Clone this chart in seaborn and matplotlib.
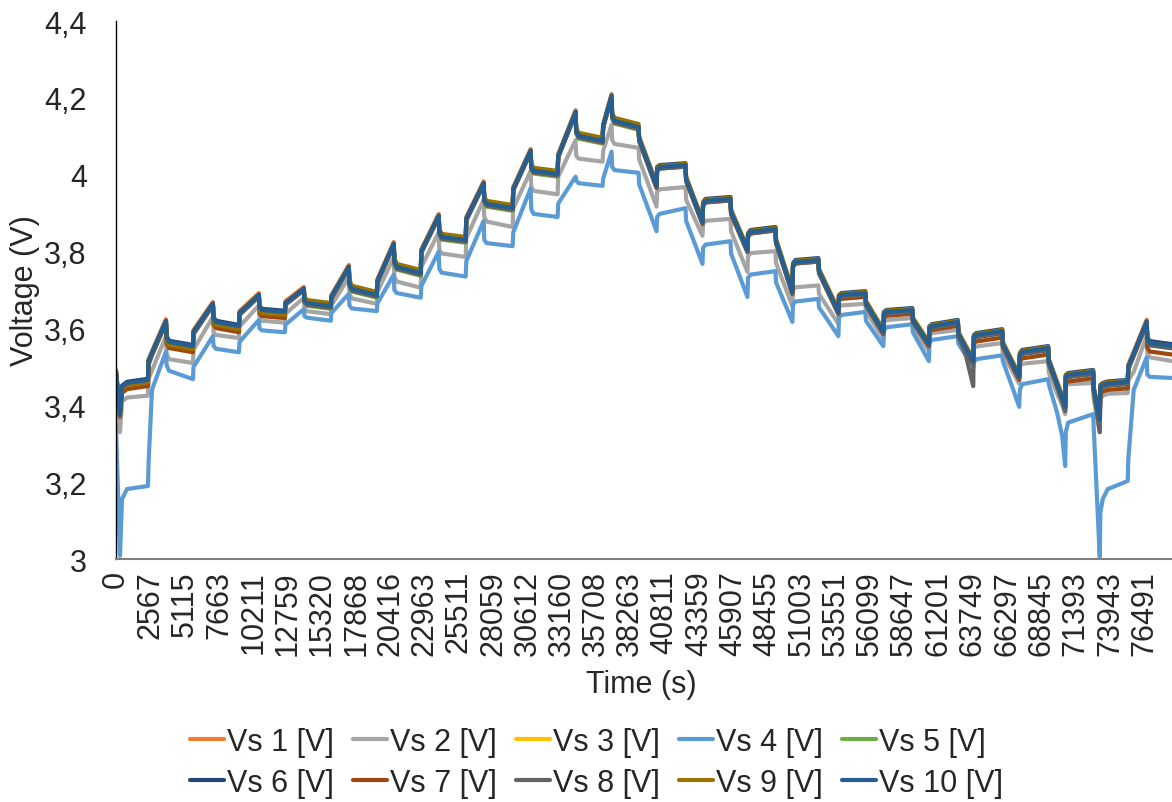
import numpy as np
import pandas as pd
import seaborn as sns
import matplotlib
matplotlib.use('Agg')
import matplotlib.pyplot as plt
from matplotlib.lines import Line2D

# time stamps (s) of the points
time_s = [0, 297, 446, 818, 2379,
          2423, 2676, 3717, 3761, 3940, 5723,
          5768, 7210, 7255, 7433, 9143,
          9187, 10629, 10674, 10852, 12562,
          12606, 13974, 14019, 14197, 15981,
          16025, 17319, 17364, 17542, 19400,
          19445, 20664, 20709, 20887, 22671,
          22715, 24009, 24054, 24232, 26016,
          26060, 27354, 27398, 27577, 29509,
          29554, 30847, 30892, 31070, 32854,
          32898, 34192, 34236, 34414, 36199,
          36243, 36868, 36912, 37091, 38875,
          38919, 40213, 40257, 40436, 42368,
          42413, 43632, 43677, 43855, 45713,
          45758, 46977, 47022, 47200, 49058,
          49103, 50321, 50366, 50544, 52254,
          52299, 53741, 53785, 53964, 55748,
          55792, 57085, 57130, 57308, 59241,
          59285, 60474, 60519, 60697, 62630,
          62674, 63224, 63775, 63819, 63998, 65930,
          65975, 66599, 67194, 67239, 67417, 69350,
          69394, 70019, 70391, 70614, 70658, 70837, 72695,
          72740, 73186, 73230, 73409, 73781, 75267,
          75311, 75713, 76679, 76724, 76902, 78561]

vs1 = [3.488, 3.378, 3.449, 3.459, 3.467,
       3.520, 3.541, 3.624, 3.579, 3.566, 3.555,
       3.596, 3.669, 3.628, 3.618, 3.607,
       3.645, 3.692, 3.657, 3.649, 3.644,
       3.671, 3.708, 3.675, 3.667, 3.659,
       3.687, 3.765, 3.719, 3.704, 3.688,
       3.728, 3.825, 3.776, 3.761, 3.745,
       3.806, 3.898, 3.852, 3.839, 3.831,
       3.890, 3.983, 3.935, 3.925, 3.914,
       3.968, 4.067, 4.021, 4.011, 4.003,
       4.054, 4.168, 4.115, 4.102, 4.089,
       4.132, 4.210, 4.154, 4.141, 4.125,
       4.094, 3.972, 4.016, 4.021, 4.026,
       3.990, 3.878, 3.925, 3.933, 3.938,
       3.904, 3.805, 3.844, 3.852, 3.860,
       3.828, 3.696, 3.766, 3.774, 3.779,
       3.750, 3.644, 3.683, 3.688, 3.693,
       3.667, 3.592, 3.639, 3.644, 3.649,
       3.623, 3.560, 3.602, 3.607, 3.618,
       3.586, 3.550, 3.516, 3.579, 3.584, 3.594,
       3.560, 3.516, 3.475, 3.532, 3.540, 3.550,
       3.516, 3.456, 3.420, 3.397, 3.475, 3.480, 3.488,
       3.443, 3.365, 3.449, 3.454, 3.458, 3.462,
       3.506, 3.540, 3.623, 3.573, 3.563, 3.555]

vs2 = [3.450, 3.330, 3.410, 3.420, 3.425,
       3.470, 3.490, 3.580, 3.535, 3.520, 3.510,
       3.545, 3.630, 3.590, 3.583, 3.575,
       3.605, 3.660, 3.628, 3.620, 3.615,
       3.638, 3.680, 3.652, 3.645, 3.637,
       3.660, 3.733, 3.690, 3.678, 3.664,
       3.695, 3.785, 3.735, 3.722, 3.706,
       3.760, 3.850, 3.805, 3.795, 3.786,
       3.835, 3.935, 3.890, 3.878, 3.864,
       3.912, 4.010, 3.968, 3.958, 3.949,
       3.995, 4.090, 4.050, 4.042, 4.034,
       4.062, 4.130, 4.090, 4.080, 4.070,
       4.040, 3.917, 3.955, 3.962, 3.968,
       3.935, 3.841, 3.873, 3.880, 3.885,
       3.853, 3.747, 3.788, 3.796, 3.801,
       3.770, 3.658, 3.700, 3.707, 3.712,
       3.690, 3.612, 3.655, 3.660, 3.664,
       3.645, 3.573, 3.615, 3.622, 3.627,
       3.605, 3.541, 3.582, 3.588, 3.596,
       3.568, 3.533, 3.500, 3.548, 3.553, 3.562,
       3.530, 3.495, 3.456, 3.500, 3.508, 3.515,
       3.485, 3.430, 3.400, 3.377, 3.450, 3.455, 3.458,
       3.415, 3.330, 3.415, 3.425, 3.430, 3.432,
       3.465, 3.487, 3.580, 3.535, 3.525, 3.515]

vs3 = [3.485, 3.375, 3.446, 3.456, 3.464,
       3.513, 3.534, 3.617, 3.576, 3.563, 3.552,
       3.589, 3.662, 3.625, 3.615, 3.604,
       3.638, 3.685, 3.654, 3.646, 3.641,
       3.664, 3.701, 3.672, 3.664, 3.656,
       3.680, 3.758, 3.716, 3.701, 3.685,
       3.721, 3.818, 3.773, 3.758, 3.742,
       3.799, 3.891, 3.849, 3.836, 3.828,
       3.883, 3.976, 3.932, 3.922, 3.911,
       3.961, 4.060, 4.018, 4.008, 4.000,
       4.047, 4.161, 4.112, 4.099, 4.086,
       4.125, 4.203, 4.151, 4.138, 4.122,
       4.091, 3.969, 4.013, 4.018, 4.023,
       3.987, 3.875, 3.922, 3.930, 3.935,
       3.901, 3.802, 3.841, 3.849, 3.857,
       3.825, 3.693, 3.763, 3.771, 3.776,
       3.747, 3.641, 3.680, 3.685, 3.690,
       3.664, 3.589, 3.636, 3.641, 3.646,
       3.620, 3.557, 3.599, 3.604, 3.615,
       3.583, 3.547, 3.513, 3.576, 3.581, 3.591,
       3.557, 3.513, 3.472, 3.529, 3.537, 3.547,
       3.513, 3.453, 3.417, 3.394, 3.472, 3.477, 3.485,
       3.440, 3.362, 3.446, 3.451, 3.455, 3.459,
       3.498, 3.532, 3.615, 3.570, 3.560, 3.552]

vs4 = [3.346, 3.008, 3.156, 3.182, 3.190,
       3.250, 3.440, 3.540, 3.505, 3.490, 3.468,
       3.500, 3.580, 3.555, 3.547, 3.538,
       3.565, 3.622, 3.600, 3.595, 3.590,
       3.610, 3.650, 3.632, 3.628, 3.620,
       3.640, 3.690, 3.660, 3.652, 3.645,
       3.665, 3.740, 3.700, 3.692, 3.680,
       3.710, 3.800, 3.755, 3.745, 3.735,
       3.775, 3.880, 3.830, 3.822, 3.814,
       3.850, 3.965, 3.910, 3.898, 3.890,
       3.925, 3.995, 3.985, 3.978, 3.971,
       3.990, 4.060, 4.020, 4.012, 4.005,
       3.975, 3.853, 3.890, 3.898, 3.913,
       3.880, 3.768, 3.810, 3.818, 3.827,
       3.795, 3.682, 3.732, 3.740, 3.749,
       3.720, 3.617, 3.662, 3.670, 3.677,
       3.655, 3.580, 3.628, 3.635, 3.643,
       3.620, 3.554, 3.595, 3.603, 3.611,
       3.590, 3.515, 3.562, 3.570, 3.580,
       3.560, 3.530, 3.502, 3.512, 3.520, 3.530,
       3.515, 3.455, 3.396, 3.440, 3.455, 3.468,
       3.455, 3.380, 3.320, 3.242, 3.330, 3.355, 3.377,
       3.340, 3.005, 3.120, 3.156, 3.182, 3.203,
       3.260, 3.440, 3.525, 3.480, 3.474, 3.471]

vs5 = [3.485, 3.375, 3.446, 3.456, 3.464,
       3.513, 3.534, 3.617, 3.571, 3.558, 3.547,
       3.589, 3.662, 3.620, 3.610, 3.599,
       3.638, 3.685, 3.649, 3.641, 3.636,
       3.664, 3.701, 3.667, 3.659, 3.651,
       3.680, 3.758, 3.711, 3.696, 3.680,
       3.721, 3.818, 3.768, 3.753, 3.737,
       3.799, 3.891, 3.844, 3.831, 3.823,
       3.883, 3.976, 3.927, 3.917, 3.906,
       3.961, 4.060, 4.013, 4.003, 3.995,
       4.047, 4.161, 4.107, 4.094, 4.081,
       4.125, 4.203, 4.146, 4.133, 4.117,
       4.091, 3.969, 4.013, 4.018, 4.023,
       3.987, 3.875, 3.922, 3.930, 3.935,
       3.901, 3.802, 3.841, 3.849, 3.857,
       3.825, 3.693, 3.763, 3.771, 3.776,
       3.747, 3.641, 3.680, 3.685, 3.690,
       3.664, 3.589, 3.636, 3.641, 3.646,
       3.620, 3.557, 3.599, 3.604, 3.615,
       3.583, 3.547, 3.513, 3.576, 3.581, 3.591,
       3.557, 3.513, 3.472, 3.529, 3.537, 3.547,
       3.513, 3.453, 3.417, 3.394, 3.472, 3.477, 3.485,
       3.440, 3.362, 3.446, 3.451, 3.455, 3.459,
       3.498, 3.532, 3.615, 3.570, 3.560, 3.552]

vs6 = [3.488, 3.378, 3.451, 3.461, 3.469,
       3.516, 3.537, 3.620, 3.581, 3.568, 3.557,
       3.592, 3.665, 3.630, 3.620, 3.609,
       3.641, 3.688, 3.659, 3.651, 3.646,
       3.667, 3.704, 3.677, 3.669, 3.661,
       3.683, 3.761, 3.721, 3.706, 3.690,
       3.724, 3.821, 3.778, 3.763, 3.747,
       3.802, 3.894, 3.854, 3.841, 3.833,
       3.886, 3.979, 3.937, 3.927, 3.916,
       3.964, 4.063, 4.023, 4.013, 4.005,
       4.050, 4.164, 4.117, 4.104, 4.091,
       4.128, 4.206, 4.156, 4.143, 4.127,
       4.094, 3.972, 4.020, 4.025, 4.030,
       3.990, 3.878, 3.929, 3.937, 3.942,
       3.904, 3.805, 3.848, 3.856, 3.864,
       3.828, 3.696, 3.770, 3.778, 3.783,
       3.750, 3.644, 3.687, 3.692, 3.697,
       3.667, 3.592, 3.643, 3.648, 3.653,
       3.623, 3.560, 3.606, 3.611, 3.622,
       3.586, 3.550, 3.516, 3.583, 3.588, 3.598,
       3.560, 3.516, 3.475, 3.536, 3.544, 3.554,
       3.516, 3.456, 3.420, 3.397, 3.479, 3.484, 3.492,
       3.443, 3.365, 3.453, 3.458, 3.462, 3.466,
       3.501, 3.535, 3.618, 3.577, 3.567, 3.559]

vs7 = [3.480, 3.370, 3.432, 3.442, 3.450,
       3.505, 3.530, 3.614, 3.562, 3.549, 3.538,
       3.585, 3.660, 3.611, 3.601, 3.590,
       3.635, 3.683, 3.640, 3.632, 3.627,
       3.662, 3.700, 3.670, 3.662, 3.654,
       3.679, 3.757, 3.714, 3.699, 3.683,
       3.720, 3.817, 3.771, 3.756, 3.740,
       3.798, 3.890, 3.847, 3.834, 3.826,
       3.882, 3.975, 3.930, 3.920, 3.909,
       3.960, 4.059, 4.016, 4.006, 3.998,
       4.046, 4.160, 4.110, 4.097, 4.084,
       4.124, 4.202, 4.149, 4.136, 4.120,
       4.087, 3.965, 4.011, 4.016, 4.021,
       3.983, 3.871, 3.920, 3.928, 3.933,
       3.897, 3.798, 3.839, 3.847, 3.855,
       3.821, 3.689, 3.761, 3.769, 3.774,
       3.743, 3.637, 3.672, 3.677, 3.682,
       3.660, 3.585, 3.628, 3.633, 3.638,
       3.616, 3.553, 3.591, 3.596, 3.607,
       3.577, 3.541, 3.507, 3.561, 3.566, 3.576,
       3.551, 3.507, 3.466, 3.514, 3.522, 3.532,
       3.507, 3.447, 3.411, 3.388, 3.457, 3.462, 3.470,
       3.434, 3.354, 3.431, 3.436, 3.440, 3.444,
       3.494, 3.528, 3.611, 3.550, 3.540, 3.532]

vs8 = [3.483, 3.373, 3.444, 3.454, 3.462,
       3.511, 3.532, 3.615, 3.574, 3.561, 3.550,
       3.587, 3.660, 3.623, 3.613, 3.602,
       3.636, 3.683, 3.652, 3.644, 3.639,
       3.662, 3.699, 3.670, 3.662, 3.654,
       3.678, 3.756, 3.714, 3.699, 3.683,
       3.719, 3.816, 3.771, 3.756, 3.740,
       3.797, 3.889, 3.847, 3.834, 3.826,
       3.881, 3.974, 3.930, 3.920, 3.909,
       3.959, 4.058, 4.016, 4.006, 3.998,
       4.045, 4.159, 4.110, 4.097, 4.084,
       4.123, 4.201, 4.149, 4.136, 4.120,
       4.089, 3.967, 4.011, 4.016, 4.021,
       3.985, 3.873, 3.920, 3.928, 3.933,
       3.899, 3.800, 3.839, 3.847, 3.855,
       3.823, 3.691, 3.761, 3.769, 3.774,
       3.745, 3.639, 3.678, 3.683, 3.688,
       3.662, 3.587, 3.634, 3.639, 3.644,
       3.618, 3.555, 3.597, 3.602, 3.613,
       3.581, 3.530, 3.450, 3.570, 3.577, 3.587,
       3.555, 3.511, 3.470, 3.525, 3.533, 3.543,
       3.511, 3.451, 3.412, 3.385, 3.468, 3.473, 3.481,
       3.436, 3.330, 3.440, 3.447, 3.451, 3.455,
       3.496, 3.530, 3.613, 3.566, 3.556, 3.548]

vs9 = [3.492, 3.380, 3.442, 3.452, 3.460,
       3.515, 3.536, 3.619, 3.570, 3.557, 3.546,
       3.591, 3.664, 3.619, 3.609, 3.598,
       3.640, 3.687, 3.648, 3.640, 3.635,
       3.666, 3.703, 3.682, 3.674, 3.666,
       3.682, 3.760, 3.726, 3.711, 3.695,
       3.723, 3.820, 3.783, 3.768, 3.752,
       3.801, 3.893, 3.859, 3.846, 3.838,
       3.885, 3.978, 3.942, 3.932, 3.921,
       3.963, 4.062, 4.028, 4.018, 4.010,
       4.049, 4.163, 4.122, 4.109, 4.096,
       4.127, 4.205, 4.161, 4.148, 4.132,
       4.099, 3.977, 4.018, 4.023, 4.028,
       3.995, 3.883, 3.927, 3.935, 3.940,
       3.909, 3.810, 3.846, 3.854, 3.862,
       3.833, 3.701, 3.768, 3.776, 3.781,
       3.755, 3.649, 3.685, 3.690, 3.695,
       3.672, 3.597, 3.641, 3.646, 3.651,
       3.628, 3.565, 3.604, 3.609, 3.620,
       3.591, 3.555, 3.521, 3.581, 3.586, 3.596,
       3.565, 3.521, 3.480, 3.534, 3.542, 3.552,
       3.521, 3.461, 3.425, 3.402, 3.477, 3.482, 3.490,
       3.448, 3.370, 3.451, 3.456, 3.460, 3.464,
       3.500, 3.534, 3.617, 3.572, 3.562, 3.554]

vs10 = [3.487, 3.377, 3.448, 3.458, 3.466,
        3.515, 3.536, 3.619, 3.578, 3.565, 3.554,
        3.591, 3.664, 3.627, 3.617, 3.606,
        3.640, 3.687, 3.656, 3.648, 3.643,
        3.666, 3.703, 3.674, 3.666, 3.658,
        3.682, 3.760, 3.718, 3.703, 3.687,
        3.723, 3.820, 3.775, 3.760, 3.744,
        3.801, 3.893, 3.851, 3.838, 3.830,
        3.885, 3.978, 3.934, 3.924, 3.913,
        3.963, 4.062, 4.020, 4.010, 4.002,
        4.049, 4.163, 4.114, 4.101, 4.088,
        4.127, 4.205, 4.153, 4.140, 4.124,
        4.093, 3.971, 4.015, 4.020, 4.025,
        3.989, 3.877, 3.924, 3.932, 3.937,
        3.903, 3.804, 3.843, 3.851, 3.859,
        3.827, 3.695, 3.765, 3.773, 3.778,
        3.749, 3.643, 3.682, 3.687, 3.692,
        3.666, 3.591, 3.638, 3.643, 3.648,
        3.622, 3.559, 3.601, 3.606, 3.617,
        3.585, 3.549, 3.515, 3.578, 3.583, 3.593,
        3.559, 3.515, 3.474, 3.531, 3.539, 3.549,
        3.515, 3.455, 3.419, 3.396, 3.474, 3.479, 3.487,
        3.442, 3.364, 3.448, 3.453, 3.457, 3.461,
        3.500, 3.534, 3.617, 3.572, 3.562, 3.554]

series_names = ['Vs 1 [V]', 'Vs 2 [V]', 'Vs 3 [V]', 'Vs 4 [V]', 'Vs 5 [V]',
                'Vs 6 [V]', 'Vs 7 [V]', 'Vs 8 [V]', 'Vs 9 [V]', 'Vs 10 [V]']
series_values = [vs1, vs2, vs3, vs4, vs5, vs6, vs7, vs8, vs9, vs10]

# category labels shown on the time axis
time_ticks = [0, 2567, 5115, 7663, 10211, 12759, 15320, 17868, 20416, 22963,
              25511, 28059, 30612, 33160, 35708, 38263, 40811, 43359, 45907,
              48455, 51003, 53551, 56099, 58647, 61201, 63749, 66297, 68845,
              71393, 73943, 76491]

colors = ['#ED7D31', '#A5A5A5', '#FFC000', '#5B9BD5', '#70AD47',
          '#264478', '#9E480E', '#636363', '#997300', '#255E91']

frames = []
for name, vals in zip(series_names, series_values):
    frames.append(pd.DataFrame({'Time': time_s, 'Voltage': vals, 'Series': name}))
df = pd.concat(frames, ignore_index=True)

sns.set_style('white')
plt.rcParams['font.family'] = ['Liberation Sans', 'DejaVu Sans']
fs = 22

fig = plt.figure(figsize=(11.72, 8.03), dpi=100)
ax = fig.add_axes([116 / 1172, 1 - 560 / 803, 1056 / 1172, 538 / 803])

sns.lineplot(data=df, x='Time', y='Voltage', hue='Series', hue_order=series_names,
             palette=colors, estimator=None, sort=False, linewidth=3.0,
             legend=False, ax=ax, solid_joinstyle='round', solid_capstyle='round')

ax.set_xlim(0, 78561)
ax.set_ylim(3, 4.4)
yt = [3.0, 3.2, 3.4, 3.6, 3.8, 4.0, 4.2, 4.4]
ax.set_yticks(yt)
ax.set_yticklabels([('%g' % v).replace('.', ',') for v in yt], fontsize=fs)
ax.set_xticks(time_ticks)
ax.set_xticklabels([str(v) for v in time_ticks], rotation=90, fontsize=fs,
                   va='top', ha='center')
ax.tick_params(axis='both', length=0)
ax.tick_params(axis='y', pad=21)
ax.tick_params(axis='x', pad=8)

ax.set_ylabel('Voltage (V)', fontsize=fs)
ax.set_xlabel('Time (s)', fontsize=fs)
ax.yaxis.set_label_coords(-0.0715, 0.5)
ax.xaxis.set_label_coords(0.497, -0.205)

for s in ['top', 'right']:
    ax.spines[s].set_visible(False)
ax.spines['left'].set_color('#000000')
ax.spines['left'].set_linewidth(1.0)
ax.spines['bottom'].set_color('#808080')
ax.spines['bottom'].set_linewidth(1.5)

# legend filled row by row (matplotlib fills columns first)
order = [0, 5, 1, 6, 2, 7, 3, 8, 4, 9]
handles = [Line2D([0], [0], color=colors[i], lw=3) for i in order]
labels = [series_names[i] for i in order]
fig.legend(handles, labels, ncol=5, loc='center', bbox_to_anchor=(0.509, 0.0498),
           frameon=False, fontsize=fs, handlelength=1.1, handletextpad=0.1,
           columnspacing=0.64, labelspacing=0.36)

fig.savefig('out.png', dpi=100)
